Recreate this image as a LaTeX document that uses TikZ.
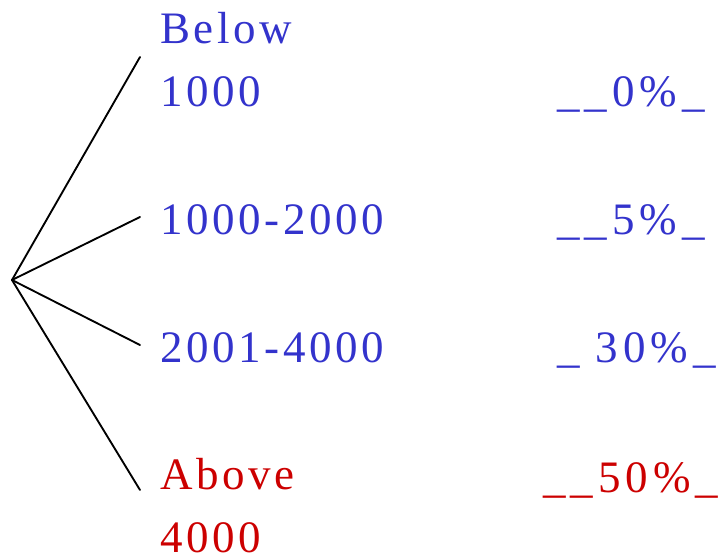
\documentclass[tikz,border=0pt]{standalone}
\usepackage{fontspec}
\setmainfont{Liberation Serif}[LetterSpace=8]
\usepackage{tikz}
\usetikzlibrary{positioning}
\definecolor{lowblue}{RGB}{51,51,204}
\definecolor{highred}{RGB}{204,0,0}
\tikzset{
  band/.style={anchor=base west, inner sep=0pt, align=left, text=lowblue,
    font=\fontsize{33.75}{47.25}\selectfont},
  share/.style={band, font=\fontsize{33.75}{47.25}\addfontfeature{LetterSpace=11}},
  hot/.style={text=highred},
  branch/.style={line width=1.4pt}
}

\begin{document}
\begin{tikzpicture}[x=0.75pt,y=-0.75pt, line cap=round, line join=round]
\useasboundingbox (0,0) rectangle (722,559);

% Root and branch ends
\coordinate (root) at (12,280);
\coordinate (e1) at (140,57);
\coordinate (e2) at (140,217);
\coordinate (e3) at (140,345);
\coordinate (e4) at (140,490);

% Income bands (base = last line)
\node[band] (b1) at (160,107) {Below\\1000};
\node[band] (b2) at (160,235) {1000-2000};
\node[band] (b3) at (160,363) {2001-4000};
\node[band,hot] (b4) at (160,553) {Above\\4000};

% Shares
\node[share] (s1) at (557,107) {\_\_0\%\_};
\node[share] (s2) at (557,235) {\_\_5\%\_};
\node[share] (s3) at (557,363) {\_ 30\%\_};
\node[share,hot] (s4) at (543,493) {\_\_50\%\_};

% Branches
\foreach \i in {1,...,4}
  \draw[branch] (root) -- (e\i);
\end{tikzpicture}
\end{document}
